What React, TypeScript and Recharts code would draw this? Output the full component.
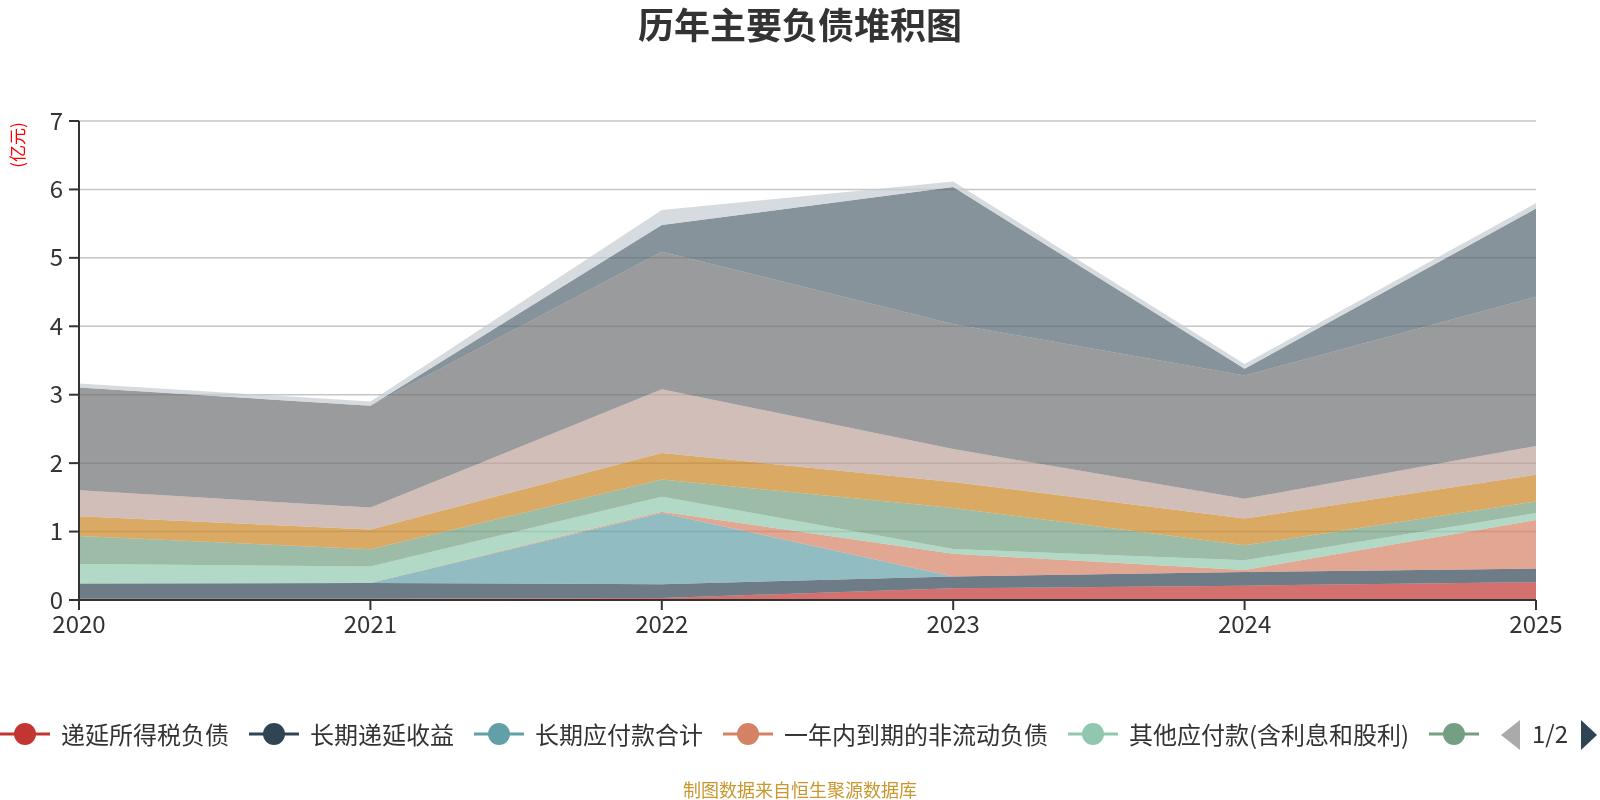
import { AreaChart, Area, XAxis, YAxis, CartesianGrid } from 'recharts'

const years = ['2020', '2021', '2022', '2023', '2024', '2025']

// 亿元, bottom of the stack first
const deferredTaxLiab = [0.02, 0.02, 0.03, 0.17, 0.21, 0.26]
const longTermDeferredIncome = [0.22, 0.23, 0.2, 0.175, 0.2, 0.2]
const longTermPayables = [0, 0, 1.04, 0, 0, 0]
const currentPortionNonCurrent = [0, 0, 0.02, 0.33, 0.03, 0.71]
const otherPayables = [0.285, 0.24, 0.22, 0.07, 0.14, 0.1]
const payroll = [0.41, 0.25, 0.25, 0.6, 0.22, 0.17]
const taxesPayable = [0.29, 0.29, 0.39, 0.38, 0.39, 0.39]
const contractLiab = [0.38, 0.32, 0.93, 0.48, 0.29, 0.42]
const accountsPayable = [1.5, 1.49, 2.01, 1.83, 1.8, 2.18]
const shortTermLoans = [0, 0, 0.39, 2.0, 0.1, 1.29]
const leaseLiab = [0.06, 0.06, 0.22, 0.08, 0.07, 0.08]

const yTicks = [0, 1, 2, 3, 4, 5, 6, 7]

const series = [
  { name: '递延所得税负债', values: deferredTaxLiab, color: '#c23531' },
  { name: '长期递延收益', values: longTermDeferredIncome, color: '#2f4554' },
  { name: '长期应付款合计', values: longTermPayables, color: '#61a0a8' },
  { name: '一年内到期的非流动负债', values: currentPortionNonCurrent, color: '#d48265' },
  { name: '其他应付款(含利息和股利)', values: otherPayables, color: '#91c7ae' },
  { name: '应付职工薪酬', values: payroll, color: '#749f83' },
  { name: '应交税费', values: taxesPayable, color: '#ca8622' },
  { name: '合同负债', values: contractLiab, color: '#bda29a' },
  { name: '应付票据及应付账款', values: accountsPayable, color: '#6e7074' },
  { name: '短期借款', values: shortTermLoans, color: '#546570' },
  { name: '租赁负债', values: leaseLiab, color: '#c4ccd3' },
]

const rows = years.map((year, i) => {
  const row: Record<string, string | number> = { year }
  series.forEach((s) => {
    row[s.name] = s.values[i]
  })
  return row
})

const font = '"Noto Sans CJK SC", "Noto Sans", sans-serif'

// first legend page: five full items, the sixth runs into the pager so only its icon shows
const PAGE_ITEMS = 6

function LegendBar() {
  const page = series.slice(0, PAGE_ITEMS)
  return (
    <>
      <div
        style={{
          position: 'absolute',
          left: 0,
          top: 719,
          height: 30,
          display: 'flex',
          alignItems: 'center',
          whiteSpace: 'nowrap',
        }}
      >
        {page.map((s, i) => (
          <div key={s.name} style={{ display: 'flex', alignItems: 'center', marginRight: 20, flexShrink: 0 }}>
            <svg width={50} height={30}>
              <line x1={0} x2={50} y1={15} y2={15} stroke={s.color} strokeWidth={3} />
              <circle cx={25} cy={15} r={11} fill={s.color} />
            </svg>
            {i < PAGE_ITEMS - 1 && (
              <span style={{ marginLeft: 11, fontSize: 24, lineHeight: '32px', color: '#333' }}>{s.name}</span>
            )}
          </div>
        ))}
      </div>
      <svg style={{ position: 'absolute', left: 1500, top: 714 }} width={100} height={42}>
        <polygon points="1,21 20,6 20,36" fill="#aaa" />
        <text x={50} y={29} textAnchor="middle" fontSize={24} fill="#333" fontFamily={font}>
          1/2
        </text>
        <polygon points="81,6 81,36 97,21" fill="#2f4554" />
      </svg>
    </>
  )
}

export default function App() {
  return (
    <div
      style={{
        position: 'fixed',
        left: 0,
        top: 0,
        width: 1600,
        height: 800,
        background: '#fff',
        fontFamily: font,
      }}
    >
      <div
        style={{
          position: 'absolute',
          top: 5,
          width: 1600,
          textAlign: 'center',
          fontSize: 36,
          lineHeight: '36px',
          fontWeight: 'bold',
          color: '#333',
        }}
      >
        历年主要负债堆积图
      </div>
      <div
        style={{
          position: 'absolute',
          left: 17,
          top: 145,
          fontSize: 17,
          lineHeight: '20px',
          color: 'red',
          whiteSpace: 'nowrap',
          transform: 'translate(-50%, -50%) rotate(-90deg)',
        }}
      >
        (亿元)
      </div>
      <AreaChart width={1600} height={800} data={rows} margin={{ top: 121, right: 64, bottom: 160, left: 19 }}>
        <CartesianGrid vertical={false} stroke="#c6c6c6" strokeWidth={1.5} />
        <XAxis
          dataKey="year"
          height={40}
          interval={0}
          tickSize={10}
          tickMargin={6}
          tick={{ fontSize: 24, fill: '#333' }}
          axisLine={{ stroke: '#333', strokeWidth: 2 }}
          tickLine={{ stroke: '#333', strokeWidth: 2 }}
        />
        <YAxis
          width={60}
          domain={[0, 7]}
          ticks={yTicks}
          interval={0}
          tickSize={10}
          tickMargin={6}
          tick={{ fontSize: 24, fill: '#333' }}
          axisLine={{ stroke: '#333', strokeWidth: 2 }}
          tickLine={{ stroke: '#333', strokeWidth: 2 }}
        />
        {series.map((s) => (
          <Area
            key={s.name}
            type="linear"
            dataKey={s.name}
            stackId="debt"
            stroke="none"
            fill={s.color}
            fillOpacity={0.7}
            dot={false}
            activeDot={false}
            isAnimationActive={false}
          />
        ))}
      </AreaChart>
      <LegendBar />
      <div
        style={{
          position: 'absolute',
          top: 779,
          width: 1600,
          textAlign: 'center',
          fontSize: 18,
          lineHeight: '20px',
          color: '#c9972d',
        }}
      >
        制图数据来自恒生聚源数据库
      </div>
    </div>
  )
}
